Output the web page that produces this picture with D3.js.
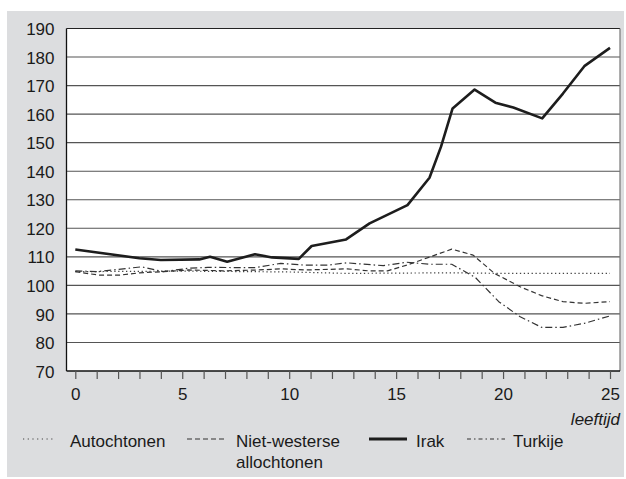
<!DOCTYPE html>
<html><head><meta charset="utf-8">
<script src="https://cdn.jsdelivr.net/npm/d3@7"></script>
<style>
html,body{margin:0;padding:0;background:#fff;}
svg{display:block;font-family:"Liberation Sans",Arial,Helvetica,sans-serif;}
</style></head>
<body>
<svg id="chart" width="626" height="479"></svg>
<script>
// ---- data ----
const yTicks = [70, 80, 90, 100, 110, 120, 130, 140, 150, 160, 170, 180, 190];
const xTickLabels = [0, 5, 10, 15, 20, 25];
const xMinorTicks = d3.range(0, 26);
const xAxisTitle = "leeftijd";

const irakAges   = [0, 3, 4, 5.8, 6.3, 7.1, 8.4, 9.2, 10.45, 11.05, 12.66, 13.76, 15.53, 16.56, 17.1, 17.64, 18.67, 19.64, 20.48, 21.83, 22.8, 23.8, 25];
const irakValues = [112.6, 109.5, 108.9, 109.1, 110.0, 108.3, 110.9, 109.8, 109.3, 113.8, 116.1, 121.7, 128.1, 137.7, 148.6, 162.0, 168.6, 164.0, 162.3, 158.5, 167.2, 176.8, 183.2];

const turkAges   = [0, 1, 3.1, 4.1, 5.3, 6.2, 8.4, 9.6, 10.7, 11.8, 12.7, 14.4, 15.5, 16.6, 17.6, 18.7, 19.8, 20.8, 21.8, 22.8, 23.8, 25];
const turkValues = [105.1, 104.8, 106.5, 104.8, 106.0, 106.3, 106.2, 107.7, 107.1, 107.1, 107.9, 106.9, 108.1, 107.4, 107.4, 102.8, 94.3, 89.0, 85.3, 85.3, 86.7, 89.3];

const nwAges   = [0, 1.1, 2.1, 3, 4.1, 5.3, 6.9, 8.6, 9.6, 10.7, 11.8, 12.7, 13.7, 14.6, 15.5, 16.6, 17.6, 18.6, 19.6, 20.8, 21.8, 22.8, 23.8, 25];
const nwValues = [104.8, 103.6, 103.6, 104.4, 104.8, 105.4, 105.1, 105.4, 105.8, 105.4, 105.6, 105.8, 105.1, 105.1, 107.1, 110.0, 112.7, 110.6, 104.2, 99.5, 96.4, 94.3, 93.7, 94.3];

const autoAges   = [0, 5, 10, 12.7, 15, 17.6, 20, 25];
const autoValues = [104.8, 105.0, 104.7, 104.2, 104.3, 104.4, 104.2, 104.2];

const seriesNames = ["Autochtonen", "Niet-westerse\nallochtonen", "Irak", "Turkije"];

// ---- drawing ----
const svg = d3.select("#chart");
const W = 626, H = 479;
const plot = {left: 66.5, right: 620, top: 28.5, bottom: 371};

svg.append("rect").attr("x", 7).attr("y", 11).attr("width", 617).attr("height", 466).attr("fill", "#dcdddf");
svg.append("rect").attr("x", plot.left).attr("y", plot.top)
   .attr("width", plot.right - plot.left).attr("height", plot.bottom - plot.top).attr("fill", "#fff");

const x = d3.scaleLinear().domain([0, 25]).range([75.3, 610]);
const y = d3.scaleLinear().domain([70, 190]).range([plot.bottom, plot.top]);

// gridlines
svg.append("g").selectAll("line").data(yTicks.filter(v => v > 70 && v < 190)).join("line")
  .attr("x1", plot.left).attr("x2", plot.right)
  .attr("y1", d => y(d)).attr("y2", d => y(d))
  .attr("stroke", "#555").attr("stroke-width", 1.1);

// frame
svg.append("line").attr("x1", plot.left).attr("x2", plot.right).attr("y1", plot.top).attr("y2", plot.top).attr("stroke", "#222").attr("stroke-width", 1.2);
svg.append("line").attr("x1", plot.right).attr("x2", plot.right).attr("y1", plot.top).attr("y2", plot.bottom).attr("stroke", "#777").attr("stroke-width", 1.2);
svg.append("line").attr("x1", plot.left).attr("x2", plot.left).attr("y1", plot.top).attr("y2", plot.bottom).attr("stroke", "#111").attr("stroke-width", 1.3);
svg.append("line").attr("x1", plot.left).attr("x2", plot.right).attr("y1", plot.bottom).attr("y2", plot.bottom).attr("stroke", "#111").attr("stroke-width", 1.3);

// y axis labels
const yAxis = d3.axisLeft(y).tickValues(yTicks).tickSize(0).tickPadding(12);
const gy = svg.append("g").attr("transform", `translate(${plot.left},0)`).call(yAxis);
gy.select(".domain").remove();
gy.selectAll("text").attr("font-size", 17).attr("fill", "#1a1a1a")
  .attr("font-family", "'Liberation Sans',Arial,sans-serif").attr("dy", "0.36em");

// x axis minor ticks
const xAxis = d3.axisBottom(x).tickValues(xMinorTicks).tickSize(8)
  .tickFormat(d => xTickLabels.includes(d) ? d : "").tickPadding(9);
const gx = svg.append("g").attr("transform", `translate(0,${plot.bottom})`).call(xAxis);
gx.select(".domain").remove();
gx.selectAll("line").attr("stroke", "#555").attr("stroke-width", 1.2);
gx.selectAll("text").attr("font-size", 17).attr("fill", "#1a1a1a")
  .attr("font-family", "'Liberation Sans',Arial,sans-serif");

svg.append("text").attr("x", 620).attr("y", 425).attr("text-anchor", "end")
  .attr("font-size", 17).attr("font-style", "italic").attr("fill", "#1a1a1a").text(xAxisTitle);

// lines
const styles = {
  auto: {dash: "1.3,2.6", width: 1.2, color: "#444"},
  nw:   {dash: "5,3", width: 1.2, color: "#333"},
  irak: {dash: null, width: 2.6, color: "#1d1d1d"},
  turk: {dash: "7,3,1.5,3", width: 1.2, color: "#333"}
};
const line = d3.line().x(d => x(d[0])).y(d => y(d[1]));
const series = [
  {key: "auto", ages: autoAges, vals: autoValues},
  {key: "nw", ages: nwAges, vals: nwValues},
  {key: "turk", ages: turkAges, vals: turkValues},
  {key: "irak", ages: irakAges, vals: irakValues}
];
series.forEach(s => {
  const st = styles[s.key];
  svg.append("path").datum(d3.zip(s.ages, s.vals)).attr("d", line)
    .attr("fill", "none").attr("stroke", st.color).attr("stroke-width", st.width)
    .attr("stroke-dasharray", st.dash).attr("stroke-linejoin", "round");
});

// legend
const legendItems = [
  {key: "auto", x1: 23, x2: 53, tx: 70},
  {key: "nw", x1: 187, x2: 225, tx: 236},
  {key: "irak", x1: 369, x2: 407, tx: 416},
  {key: "turk", x1: 467, x2: 505, tx: 513}
];
const legendY = 439;
legendItems.forEach((it, i) => {
  const st = styles[it.key];
  svg.append("line").attr("x1", it.x1).attr("x2", it.x2).attr("y1", legendY).attr("y2", legendY)
    .attr("stroke", st.color).attr("stroke-width", it.key === "irak" ? 2.8 : 1.1)
    .attr("stroke-dasharray", it.key === "auto" ? "1.2,3.5" : it.key === "nw" ? "5,3" : it.key === "turk" ? "4,3,1.5,3" : null);
  const t = svg.append("text").attr("x", it.tx).attr("y", 447).attr("font-size", 17).attr("fill", "#1a1a1a");
  seriesNames[i].split("\n").forEach((ln, j) => {
    t.append("tspan").attr("x", it.tx).attr("dy", j === 0 ? 0 : 21).text(ln);
  });
});
</script>
</body></html>
